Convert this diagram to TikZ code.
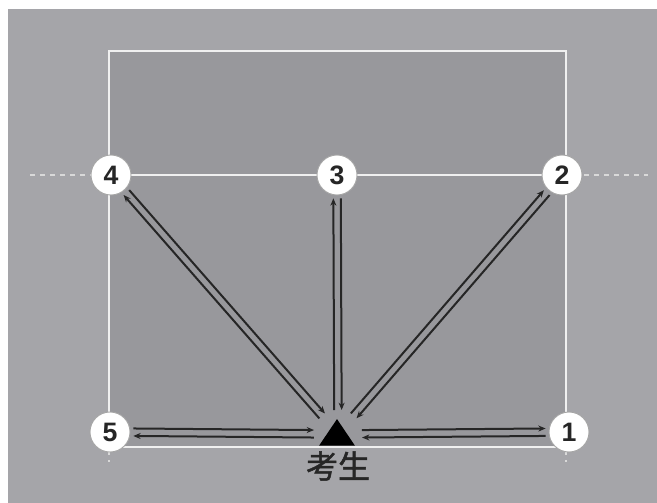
\documentclass[tikz,border=0pt]{standalone}
\usepackage{fontspec}
\setmainfont{Liberation Sans}
\newfontfamily\cjk[FakeBold=1.6]{Noto Sans CJK SC}
\usetikzlibrary{arrows.meta,calc,shapes.geometric}
\definecolor{outgray}{HTML}{A5A5A9}
\definecolor{ingray}{HTML}{98989C}
\definecolor{ink}{HTML}{262626}
\tikzset{
  court/.style={draw=white!94!black,line width=1.35pt},
  ext/.style={draw=white!85!black,line width=1.35pt,dash pattern=on 3.75pt off 3.75pt},
  num/.style={circle,fill=white,draw=gray!70,line width=0.7pt,minimum size=30pt,inner sep=0pt,
    font=\fontsize{20}{20}\selectfont\bfseries,text=ink},
  run/.style={draw=ink,line width=1.5pt,-{Stealth[length=5.5pt,width=4.5pt]}},
}
\begin{document}
\begin{tikzpicture}[x=0.75pt,y=-0.75pt]
\useasboundingbox (0,0) rectangle (657,503);
\fill[white] (0,0) rectangle (657,503);
\fill[outgray] (8,9) rectangle (657,503);
\fill[ingray] (109,51) rectangle (566,447);
% court lines
\draw[court] (109,447) -- (109,51) -- (566,51) -- (566,447);
\draw[court] (109,447) -- (566,447);
\draw[court] (109,175) -- (566,175);
\draw[ext] (30,175) -- (92,175);
\draw[ext] (584,175) -- (648,175);
\draw[ext] (109,450) -- (109,462);
\draw[ext] (566,450) -- (566,462);
% points
\node[num] (p4) at (111,175) {4};
\node[num] (p3) at (337,175) {3};
\node[num] (p2) at (562,175) {2};
\node[num] (p5) at (110,432) {5};
\node[num] (p1) at (569,432) {1};
% examinee
\coordinate (T) at (338,434);
\node[fill=black,isosceles triangle,isosceles triangle apex angle=68,shape border rotate=90,
  minimum height=20pt,inner sep=0pt,anchor=south] (tri) at (337,446) {};
\node[font=\cjk\fontsize{24}{24}\selectfont,text=ink] (lab) at (338,466) {考生};
% runs
\foreach \p in {p1,p2,p3,p4,p5}{
  \draw[run] ($(T)!18pt!(\p)!2.8pt!90:(\p)$) -- ($(\p)!17.5pt!(T)!2.8pt!-90:(T)$);
  \draw[run] ($(\p)!17.5pt!(T)!2.8pt!90:(T)$) -- ($(T)!18pt!(\p)!2.8pt!-90:(\p)$);
}
\end{tikzpicture}
\end{document}
